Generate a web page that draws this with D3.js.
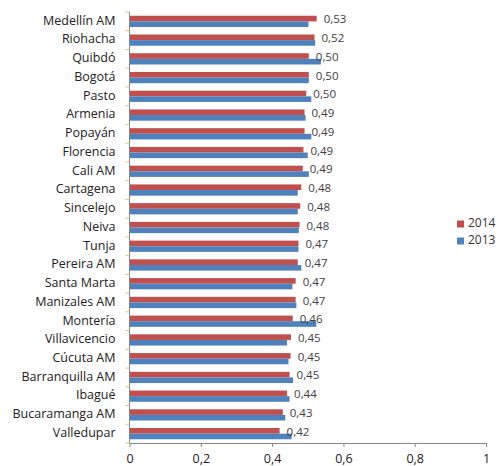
<!DOCTYPE html>
<html><head><meta charset="utf-8">
<script src="https://cdn.jsdelivr.net/npm/d3@7/dist/d3.min.js"></script>
<style>body{margin:0;background:#fff}svg{display:block}</style>
</head><body>
<svg id="c" width="500" height="466"></svg>
<script>
const categories = ["Medellín AM","Riohacha","Quibdó","Bogotá","Pasto","Armenia","Popayán","Florencia","Cali AM","Cartagena","Sincelejo","Neiva","Tunja","Pereira AM","Santa Marta","Manizales AM","Montería","Villavicencio","Cúcuta AM","Barranquilla AM","Ibagué","Bucaramanga AM","Valledupar"];
const values2014 = [0.525,0.519,0.503,0.503,0.496,0.491,0.491,0.488,0.486,0.482,0.479,0.477,0.474,0.472,0.466,0.466,0.458,0.453,0.452,0.449,0.442,0.430,0.421];
const values2013 = [0.502,0.521,0.537,0.503,0.510,0.494,0.510,0.500,0.503,0.472,0.472,0.475,0.474,0.482,0.457,0.468,0.524,0.442,0.446,0.459,0.449,0.437,0.455];
const labels2014 = ["0,53","0,52","0,50","0,50","0,50","0,49","0,49","0,49","0,49","0,48","0,48","0,48","0,47","0,47","0,47","0,47","0,46","0,45","0,45","0,45","0,44","0,43","0,42"];
const xTicks = [0,0.2,0.4,0.6,0.8,1];
const xTickLabels = ["0","0,2","0,4","0,6","0,8","1"];
const seriesNames = ["2014","2013"];
const seriesColors = ["#C0504D","#4F81BD"];

const svg = d3.select("#c");
const mLeft = 129.5, mRight = 486, mTop = 12, mBottom = 443;
const x = d3.scaleLinear().domain([0,1]).range([mLeft,mRight]);
const y = d3.scaleBand().domain(categories).range([mTop,mBottom]).paddingInner(0.4).paddingOuter(0.2);
const sub = d3.scaleBand().domain(seriesNames).range([0,y.bandwidth()]);
const font = "'Open Sans', sans-serif";

const data = [values2014, values2013];
data.forEach((vals,si)=>{
  svg.append("g").selectAll("rect").data(categories).join("rect")
    .attr("x", x(0))
    .attr("y", d=>y(d)+sub(seriesNames[si]))
    .attr("width", (d,i)=>x(vals[i])-x(0))
    .attr("height", sub.bandwidth())
    .attr("fill", seriesColors[si]);
});

// value labels for 2014
svg.append("g").selectAll("text").data(categories).join("text")
  .attr("x",(d,i)=>x(values2014[i])+7)
  .attr("y",d=>y(d)+y.bandwidth()/2-1)
  .attr("dominant-baseline","middle")
  .attr("font-family",font).attr("font-size",11.5).attr("fill","#404040")
  .text((d,i)=>labels2014[i]);

// y axis
const yAxisG = svg.append("g");
yAxisG.append("line").attr("x1",mLeft).attr("x2",mLeft).attr("y1",mTop).attr("y2",mBottom).attr("stroke","#868686");
const step = y.step();
d3.range(categories.length+1).forEach(i=>{
  const yy = mTop + i*step;
  yAxisG.append("line").attr("x1",mLeft-4).attr("x2",mLeft).attr("y1",yy).attr("y2",yy).attr("stroke","#D9C77A");
});
yAxisG.selectAll("text.cat").data(categories).join("text").attr("class","cat")
  .attr("x",mLeft-14).attr("y",d=>y(d)+y.bandwidth()/2)
  .attr("text-anchor","end").attr("dominant-baseline","middle")
  .attr("font-family",font).attr("font-size",12.5).attr("fill","#222")
  .text(d=>d);

// x axis
const xAxis = d3.axisBottom(x).tickValues(xTicks).tickFormat((d,i)=>xTickLabels[i]).tickSize(4).tickSizeOuter(0);
const xg = svg.append("g").attr("transform",`translate(0,${mBottom})`).call(xAxis);
xg.select(".domain").attr("stroke","#868686");
xg.selectAll(".tick line").attr("stroke","#868686");
xg.selectAll(".tick text").attr("font-family",font).attr("font-size",12.5).attr("fill","#222").attr("dy","1.05em");

// legend
const lg = svg.append("g");
seriesNames.forEach((s,i)=>{
  const ly = 224 + i*17;
  lg.append("rect").attr("x",457).attr("y",ly-3.5).attr("width",7).attr("height",7).attr("fill",seriesColors[i]);
  lg.append("text").attr("x",468).attr("y",ly).attr("dominant-baseline","middle")
    .attr("font-family",font).attr("font-size",12).attr("fill","#333").text(s);
});
</script>
</body></html>
